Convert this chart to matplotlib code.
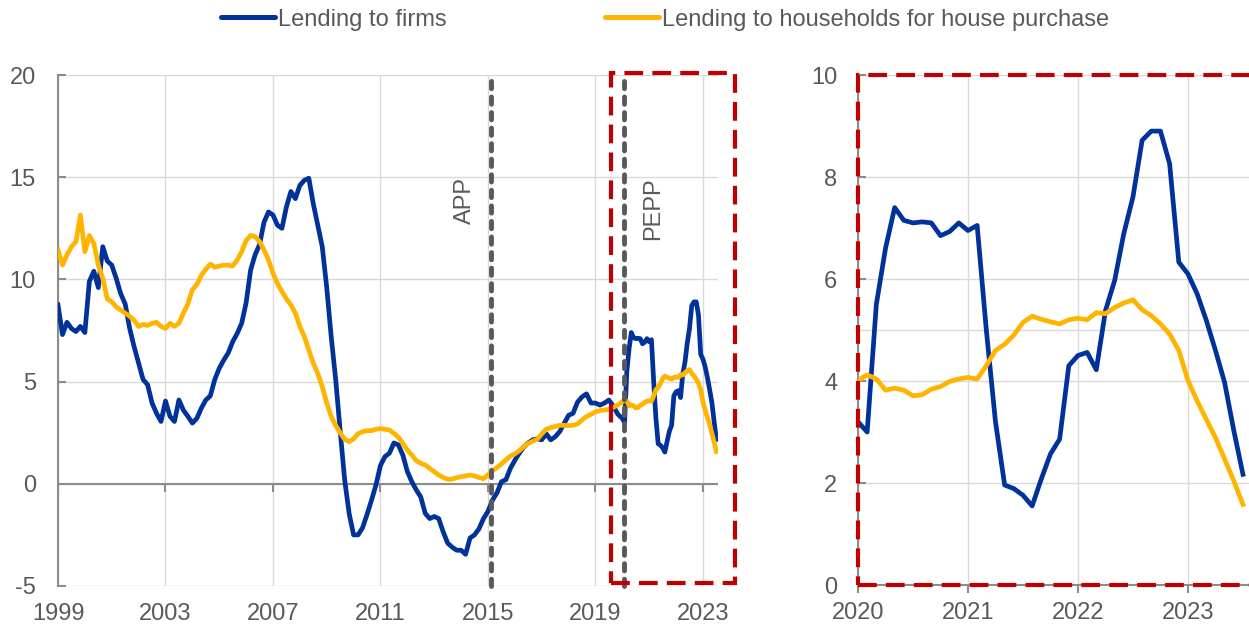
import numpy as np
import matplotlib.pyplot as plt
from matplotlib.lines import Line2D
from matplotlib.patches import Rectangle

plt.rcParams['font.family'] = ['Liberation Sans', 'DejaVu Sans']
plt.rcParams['axes.unicode_minus'] = False

# annual growth rates, %, every two months from Jan 1999 to Nov 2019
firms_pre = [8.75, 7.3, 7.9, 7.6, 7.45, 7.7, 7.4, 9.9, 10.4, 9.6, 11.6, 10.9,
             10.7, 10.05, 9.3, 8.8, 7.6, 6.7, 5.9, 5.1, 4.85, 3.95, 3.45, 3.05,
             4.05, 3.3, 3.05, 4.1, 3.6, 3.3, 2.97, 3.2, 3.7, 4.1, 4.3, 5.1,
             5.65, 6.05, 6.4, 6.95, 7.35, 7.85, 8.85, 10.45, 11.2, 11.7, 12.8, 13.3,
             13.15, 12.65, 12.5, 13.55, 14.3, 13.95, 14.6, 14.85, 14.95, 13.7, 12.65, 11.6,
             9.6, 7.2, 5.1, 2.6, 0.2, -1.45, -2.5, -2.5, -2.15, -1.5, -0.8, -0.05,
             0.9, 1.33, 1.5, 2.0, 1.9, 1.4, 0.6, 0.1, -0.3, -0.65, -1.45, -1.7,
             -1.6, -1.7, -2.35, -2.9, -3.1, -3.25, -3.25, -3.45, -2.65, -2.5, -2.2, -1.7,
             -1.35, -0.8, -0.45, 0.1, 0.2, 0.75, 1.15, 1.5, 1.8, 2.0, 2.15, 2.2,
             2.15, 2.45, 2.15, 2.3, 2.55, 2.95, 3.35, 3.45, 4.0, 4.25, 4.4, 3.95,
             3.95, 3.85, 3.95, 4.1, 3.8, 3.4]
house_pre = [11.45, 10.7, 11.2, 11.6, 11.85, 13.15, 11.35, 12.15, 11.75, 10.7, 10.05, 9.05,
             8.9, 8.65, 8.5, 8.35, 8.2, 8.0, 7.7, 7.8, 7.75, 7.85, 7.9, 7.7,
             7.6, 7.85, 7.7, 7.85, 8.35, 8.8, 9.5, 9.75, 10.2, 10.5, 10.75, 10.6,
             10.65, 10.7, 10.7, 10.65, 10.95, 11.35, 11.9, 12.15, 12.1, 11.85, 11.45, 10.95,
             10.3, 9.8, 9.4, 9.05, 8.75, 8.35, 7.7, 7.2, 6.55, 5.9, 5.4, 4.75,
             3.95, 3.3, 2.85, 2.5, 2.18, 2.06, 2.2, 2.45, 2.55, 2.6, 2.6, 2.67,
             2.7, 2.67, 2.63, 2.47, 2.27, 1.98, 1.65, 1.41, 1.13, 1.0, 0.92, 0.75,
             0.59, 0.43, 0.31, 0.22, 0.23, 0.3, 0.35, 0.38, 0.43, 0.38, 0.31, 0.25,
             0.43, 0.64, 0.79, 0.97, 1.17, 1.36, 1.46, 1.62, 1.82, 1.98, 2.08, 2.18,
             2.44, 2.67, 2.75, 2.8, 2.86, 2.86, 2.85, 2.86, 2.93, 3.12, 3.29, 3.4,
             3.52, 3.58, 3.61, 3.64, 3.74, 3.86]

# monthly, Jan 2020 to Jul 2023
firms_recent = [3.2, 3.0, 5.5, 6.6, 7.4, 7.15, 7.1, 7.12, 7.1, 6.85, 6.93, 7.1,
                6.95, 7.05, 5.0, 3.2, 1.96, 1.89, 1.76, 1.55, 2.08, 2.57, 2.86, 4.3,
                4.5, 4.56, 4.22, 5.38, 5.97, 6.89, 7.61, 8.72, 8.9, 8.9, 8.26, 6.33,
                6.1, 5.71, 5.19, 4.6, 3.97, 3.03, 2.17]
house_recent = [4.01, 4.12, 4.04, 3.82, 3.86, 3.82, 3.71, 3.73, 3.84, 3.89, 3.99, 4.04,
                4.07, 4.04, 4.3, 4.6, 4.72, 4.9, 5.15, 5.27, 5.21, 5.16, 5.12, 5.2,
                5.23, 5.2, 5.34, 5.32, 5.44, 5.53, 5.59, 5.4, 5.28, 5.12, 4.92, 4.6,
                4.01, 3.61, 3.25, 2.89, 2.47, 2.04, 1.58]

left_years = [1999, 2003, 2007, 2011, 2015, 2019, 2023]
right_years = [2020, 2021, 2022, 2023]
app_date = 2015.1
pepp_date = 2020.05

x_pre = 1999 + np.arange(len(firms_pre)) * 2 / 12
x_recent = 2020 + np.arange(len(firms_recent)) / 12
x_all = np.concatenate([x_pre, x_recent])
firms_all = np.concatenate([firms_pre, firms_recent])
house_all = np.concatenate([house_pre, house_recent])

blue = '#003299'
yellow = '#ffb400'
red = '#c00000'
grey = '#595959'
grid_c = '#d9d9d9'
axis_c = '#8c8c8c'
lw_series = 3.4

fig = plt.figure(figsize=(12.49, 6.26), dpi=100)
ax1 = fig.add_axes([58 / 1249, 1 - 586 / 626, 660 / 1249, 511 / 626])
ax2 = fig.add_axes([858 / 1249, 1 - 585 / 626, 391 / 1249, 510 / 626])

# ---- left panel
ax1.plot(x_all, firms_all, color=blue, lw=lw_series, zorder=3, solid_joinstyle='round')
ax1.plot(x_all, house_all, color=yellow, lw=lw_series, zorder=3, solid_joinstyle='round')
ax1.set_xlim(1999, 2023.56)
ax1.set_ylim(-5, 20)
ax1.set_xticks(left_years)
ax1.set_yticks([-5, 0, 5, 10, 15, 20])
ax1.grid(True, color=grid_c, lw=1, zorder=0)
ax1.axhline(0, color=axis_c, lw=1.5, zorder=2)
ax1.vlines(left_years, -0.4, 0, color=axis_c, lw=1.5, zorder=2)
for s in ['top', 'right', 'bottom']:
    ax1.spines[s].set_visible(False)
ax1.spines['left'].set_color(axis_c)
ax1.spines['left'].set_linewidth(1.5)
ax1.tick_params(axis='y', direction='in', length=6, width=1.5, color=axis_c,
                labelsize=17, labelcolor=grey, pad=16)
ax1.tick_params(axis='x', length=0, labelsize=17, labelcolor=grey, pad=12)

# programme announcement lines
for d in [app_date, pepp_date]:
    ax1.plot([d, d], [-5, 20], color=grey, lw=3.5, ls=(0, (1.5, 1.7)),
             dash_capstyle='round', zorder=4, clip_on=False)
ax1.text(app_date - 0.95, 15, 'APP', rotation=90, ha='center', va='top',
         fontsize=17, color=grey)
ax1.text(pepp_date + 1.08, 15, 'PEPP', rotation=90, ha='center', va='top',
         fontsize=17, color=grey)
ax1.add_patch(Rectangle((2019.58, -4.86), 4.61, 24.96, fill=False, ec=red, lw=3,
                        ls=(0, (4.5, 2.2)), zorder=5, clip_on=False))

# ---- right panel (zoom on 2020-2023)
ax2.plot(x_recent, firms_recent, color=blue, lw=lw_series, zorder=3, solid_joinstyle='round')
ax2.plot(x_recent, house_recent, color=yellow, lw=lw_series, zorder=3, solid_joinstyle='round')
ax2.set_xlim(2020, 2023.555)
ax2.set_ylim(0, 10)
ax2.set_xticks(right_years)
ax2.set_yticks([0, 2, 4, 6, 8, 10])
ax2.grid(True, color=grid_c, lw=1, zorder=0)
ax2.axhline(5, color=grid_c, lw=1, zorder=0)
for s in ['top', 'right']:
    ax2.spines[s].set_visible(False)
for s in ['left', 'bottom']:
    ax2.spines[s].set_color(axis_c)
    ax2.spines[s].set_linewidth(1.5)
ax2.tick_params(axis='y', direction='in', length=6, width=1.5, color=axis_c,
                labelsize=17, labelcolor=grey, pad=15)
ax2.tick_params(axis='x', direction='out', length=6, width=1.5, color=axis_c,
                labelsize=17, labelcolor=grey, pad=6)
ax2.add_patch(Rectangle((0, 0), 1.02, 1, transform=ax2.transAxes, fill=False, ec=red,
                        lw=3, ls=(0, (4.5, 2.2)), zorder=5, clip_on=False))

# ---- legend
handles = [Line2D([], [], color=blue, lw=3.6, solid_capstyle='round'),
           Line2D([], [], color=yellow, lw=3.6, solid_capstyle='round')]
labels = ['Lending to firms', 'Lending to households for house purchase']
fig.legend(handles, labels, loc='upper center', bbox_to_anchor=(665 / 1249, 1.02),
           ncol=2, frameon=False, fontsize=17, handlelength=2.3, handletextpad=0.13,
           columnspacing=6.7, labelcolor=grey)

fig.savefig('out.png', dpi=100)
